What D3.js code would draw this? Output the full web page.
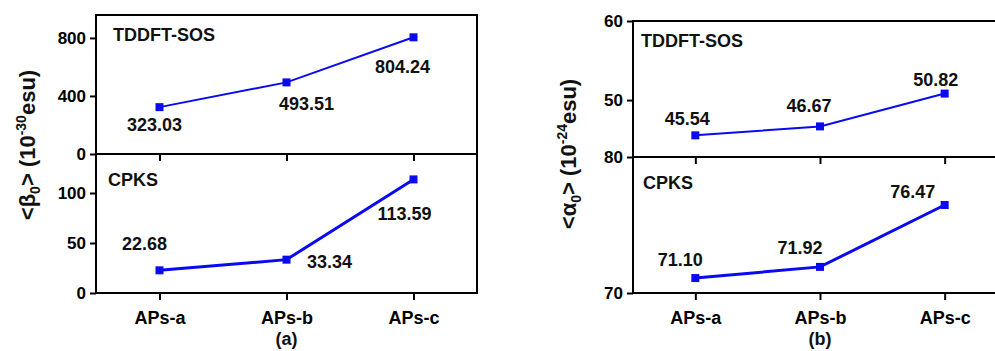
<!DOCTYPE html>
<html>
<head>
<meta charset="utf-8">
<script src="https://cdn.jsdelivr.net/npm/d3@7"></script>
<style>
  body { margin: 0; background: #fff; }
  svg { display: block; font-family: "Liberation Sans", Arial, sans-serif; font-weight: bold; }
</style>
</head>
<body>
<svg id="chart" width="995" height="351"></svg>
<script>
var categories = ["APs-a", "APs-b", "APs-c"];
var betaTDDFT = [323.03, 493.51, 804.24];
var betaCPKS = [22.68, 33.34, 113.59];
var alphaTDDFT = [45.54, 46.67, 50.82];
var alphaCPKS = [71.10, 71.92, 76.47];
var betaTopTicks = [0, 400, 800];
var betaBotTicks = [0, 50, 100];
var alphaTopTicks = [50, 60];
var alphaBotTicks = [70, 80];

var blue = "#0a0af0";
var svg = d3.select("#chart");

// one framed panel holding two stacked plots
function drawPanel(p) {
    var x = d3.scalePoint().domain(categories).range([p.left, p.right]).padding(0.5);
    var g = svg.append("g");

    p.plots.forEach(function (pl) {
        var y = d3.scaleLinear().domain(pl.domain).range([pl.bottom, pl.top]);

        // y axis ticks + labels
        var ya = g.append("g")
            .attr("transform", "translate(" + p.left + ",0)")
            .call(d3.axisLeft(y).tickValues(pl.ticks).tickSize(6).tickPadding(4).tickFormat(d3.format("d")));
        ya.select(".domain").remove();
        ya.selectAll("line").attr("stroke", "#000").attr("stroke-width", 2);
        ya.selectAll("text").attr("font-size", 17).attr("font-family", null).attr("fill", "#000");

        // x ticks (outward, down)
        var xa = g.append("g")
            .attr("transform", "translate(0," + pl.bottom + ")")
            .call(d3.axisBottom(x).tickSize(7).tickFormat(pl.xlabels ? null : ""));
        xa.select(".domain").remove();
        xa.selectAll("line").attr("stroke", "#000").attr("stroke-width", 2);
        xa.selectAll("text").attr("font-size", 18).attr("font-family", null).attr("fill", "#000")
            .attr("dy", "1.15em");

        var pts = pl.values.map(function (v, i) { return [x(categories[i]), y(v)]; });

        g.append("path")
            .attr("d", d3.line()(pts))
            .attr("fill", "none")
            .attr("stroke", blue)
            .attr("stroke-width", pl.lw);

        g.selectAll(null)
            .data(pts)
            .enter()
            .append("rect")
            .attr("x", function (d) { return d[0] - 4; })
            .attr("y", function (d) { return d[1] - 4; })
            .attr("width", 8)
            .attr("height", 8)
            .attr("fill", blue);

        g.selectAll(null)
            .data(pl.values)
            .enter()
            .append("text")
            .text(function (d) { return d.toFixed(2); })
            .attr("x", function (d, i) { return pts[i][0] + pl.off[i][0]; })
            .attr("y", function (d, i) { return pts[i][1] + pl.off[i][1]; })
            .attr("text-anchor", "middle")
            .attr("font-size", 18)
            .attr("fill", "#111");

        g.append("text")
            .text(pl.name)
            .attr("x", p.left + pl.nameX)
            .attr("y", pl.top + pl.nameY)
            .attr("font-size", 18)
            .attr("fill", "#111");
    });

    // frame and divider
    g.append("rect")
        .attr("x", p.left).attr("y", p.plots[0].top)
        .attr("width", p.right - p.left)
        .attr("height", p.plots[1].bottom - p.plots[0].top)
        .attr("fill", "none").attr("stroke", "#000").attr("stroke-width", 2);
    g.append("line")
        .attr("x1", p.left).attr("x2", p.right)
        .attr("y1", p.plots[0].bottom).attr("y2", p.plots[0].bottom)
        .attr("stroke", "#000").attr("stroke-width", 2);

    // y title
    var t = g.append("text")
        .attr("transform", "translate(" + p.titleX + "," + p.titleY + ") rotate(-90)")
        .attr("text-anchor", "middle")
        .attr("font-size", 22)
        .attr("fill", "#111");
    t.append("tspan").text("<" + p.sym);
    t.append("tspan").text("0").attr("font-size", 14).attr("dy", 5);
    t.append("tspan").text("> (10").attr("dy", -5);
    t.append("tspan").text(p.exp).attr("font-size", 14).attr("dy", -9);
    t.append("tspan").text("esu)").attr("dy", 9);

    g.append("text")
        .text(p.caption)
        .attr("x", x("APs-b"))
        .attr("y", 345)
        .attr("text-anchor", "middle")
        .attr("font-size", 18)
        .attr("fill", "#111");
}

drawPanel({
    left: 96, right: 477, titleX: 35, titleY: 145, sym: "\u03b2", exp: "-30", caption: "(a)",
    plots: [
        { name: "TDDFT-SOS", values: betaTDDFT, domain: [0, 958], ticks: betaTopTicks, top: 15, bottom: 154,
          lw: 2, nameX: 17, nameY: 26, xlabels: false,
          off: [[-5, 24], [20, 28], [-11, 36]] },
        { name: "CPKS", values: betaCPKS, domain: [0, 139], ticks: betaBotTicks, top: 154, bottom: 293,
          lw: 3, nameX: 12, nameY: 32, xlabels: true,
          off: [[-15, -20], [43, 8], [-9, 41]] }
    ]
});

drawPanel({
    left: 633, right: 1007, titleX: 576, titleY: 154, sym: "\u03b1", exp: "-24", caption: "(b)",
    plots: [
        { name: "TDDFT-SOS", values: alphaTDDFT, domain: [42.8, 60], ticks: alphaTopTicks, top: 21, bottom: 157,
          lw: 2, nameX: 8, nameY: 26, xlabels: false,
          off: [[-8, -10], [-11, -14], [-9, -8]] },
        { name: "CPKS", values: alphaCPKS, domain: [70, 80], ticks: alphaBotTicks, top: 157, bottom: 293,
          lw: 3, nameX: 10, nameY: 32, xlabels: true,
          off: [[-15, -12], [-20, -13], [-32, -7]] }
    ]
});
</script>
</body>
</html>
